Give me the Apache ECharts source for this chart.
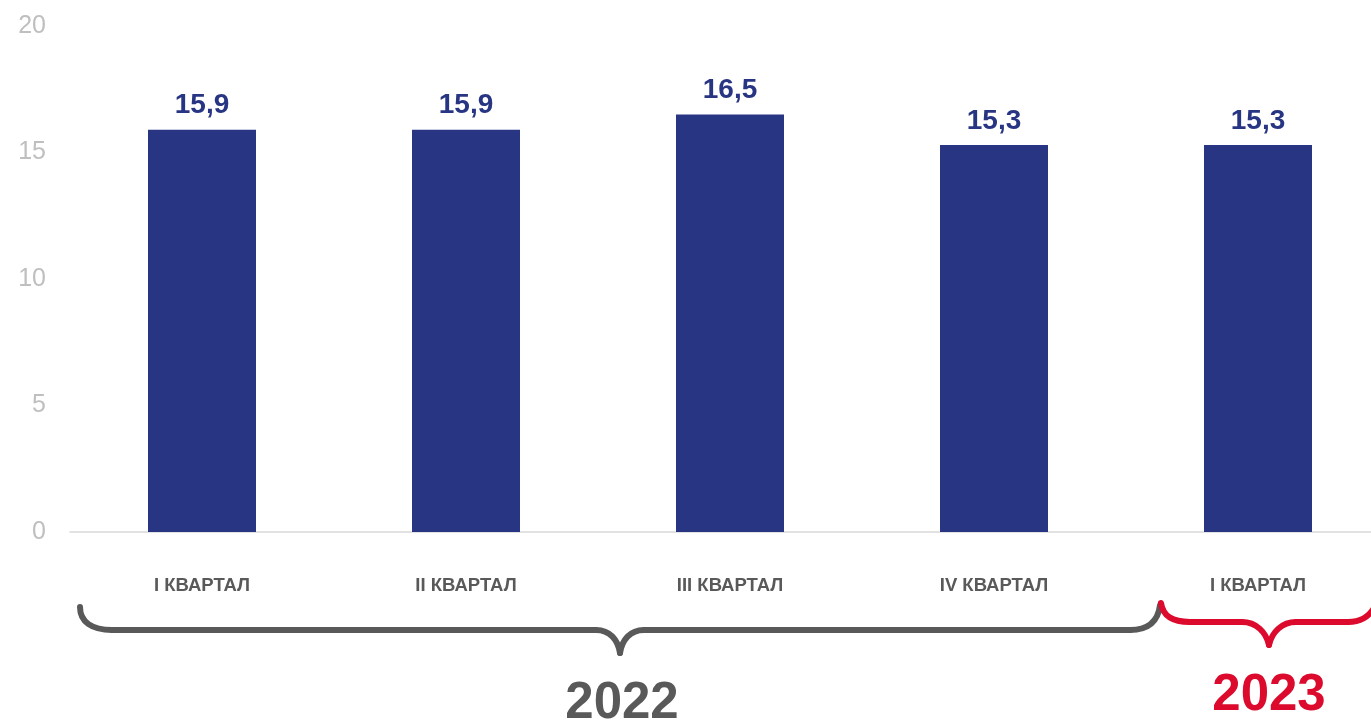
<!DOCTYPE html>
<html>
<head>
<meta charset="utf-8">
<script src="https://cdn.jsdelivr.net/npm/echarts@6/dist/echarts.min.js"></script>
<style>
html,body{margin:0;padding:0;background:#fff;overflow:hidden;}
#c{width:1390px;height:724px;}
</style>
</head>
<body>
<div id="c"></div>
<script>
const categories = ['I КВАРТАЛ', 'II КВАРТАЛ', 'III КВАРТАЛ', 'IV КВАРТАЛ', 'I КВАРТАЛ'];
const values = [15.9, 15.9, 16.5, 15.3, 15.3];
const yTicks = [0, 5, 10, 15, 20];
const yearLabels = ['2022', '2023'];

const chart = echarts.init(document.getElementById('c'), null, {renderer: 'canvas'});
const FONT = '"Liberation Sans", Arial, sans-serif';
const NAVY = '#283583';
const GREY = '#595959';
const RED = '#DC0A2D';

// brace made of cubic segments: each seg [x1,y1,cx1,cy1,cx2,cy2,x2,y2] or line [x1,y1,x2,y2]
function brace(segs, color) {
  return segs.map(s => s.length === 4
    ? {type: 'line', shape: {x1: s[0], y1: s[1], x2: s[2], y2: s[3]}, style: {stroke: color, lineWidth: 6, lineCap: 'round'}}
    : {type: 'bezierCurve', shape: {x1: s[0], y1: s[1], cpx1: s[2], cpy1: s[3], cpx2: s[4], cpy2: s[5], x2: s[6], y2: s[7]},
       style: {stroke: color, lineWidth: 6, fill: 'none', lineCap: 'round'}});
}

const greyBrace = brace([
  [80, 607, 80, 622, 92, 630, 112, 630],
  [112, 630, 596, 630],
  [596, 630, 610, 630, 618, 640, 620, 653],
  [620, 653, 622, 640, 630, 630, 644, 630],
  [644, 630, 1130, 630],
  [1130, 630, 1148, 630, 1158, 622, 1160, 605]
], GREY);
const redBrace = brace([
  [1161, 603, 1163, 616, 1172, 622, 1190, 622],
  [1190, 622, 1242, 622],
  [1242, 622, 1256, 622, 1266, 632, 1269, 645],
  [1269, 645, 1272, 632, 1282, 622, 1296, 622],
  [1296, 622, 1348, 622],
  [1348, 622, 1360, 622, 1368, 618, 1374, 608]
], RED);

chart.setOption({
  animation: false,
  grid: {left: 70, top: 26, right: 0, height: 506, containLabel: false, outerBoundsMode: 'none'},
  xAxis: {
    type: 'category',
    data: categories,
    axisLine: {show: true, lineStyle: {color: '#D9D9D9', width: 1.5}},
    axisTick: {show: false},
    axisLabel: {color: GREY, fontFamily: FONT, fontWeight: 'bold', fontSize: 18.5, margin: 44}
  },
  yAxis: {
    type: 'value',
    min: yTicks[0],
    max: yTicks[yTicks.length - 1],
    interval: 5,
    splitLine: {show: false},
    axisLine: {show: false},
    axisTick: {show: false},
    axisLabel: {color: '#BFBFBF', fontFamily: FONT, fontSize: 25, margin: 24}
  },
  series: [{
    type: 'bar',
    data: values,
    barWidth: 108,
    itemStyle: {color: NAVY},
    label: {
      show: true,
      position: 'top',
      distance: 10,
      color: NAVY,
      fontFamily: FONT,
      fontWeight: 'bold',
      fontSize: 28,
      formatter: p => String(p.value).replace('.', ',')
    }
  }],
  graphic: greyBrace.concat(redBrace).concat([
    {
      type: 'text',
      x: 622, y: 704,
      style: {text: yearLabels[0], fill: GREY, font: 'bold 51px ' + FONT, textAlign: 'center', textVerticalAlign: 'middle'}
    },
    {
      type: 'text',
      x: 1269, y: 696,
      style: {text: yearLabels[1], fill: RED, font: 'bold 51px ' + FONT, textAlign: 'center', textVerticalAlign: 'middle'}
    }
  ])
});
</script>
</body>
</html>
